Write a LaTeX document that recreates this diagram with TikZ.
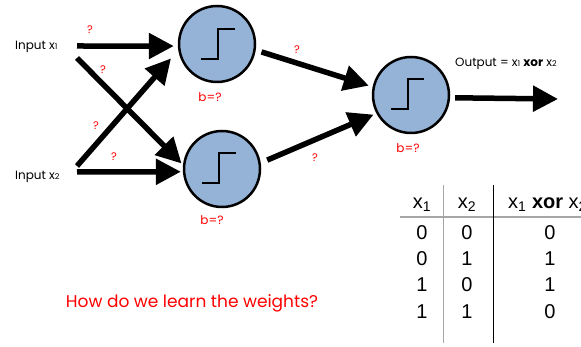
\documentclass[tikz,border=0pt]{standalone}
\usepackage{fontspec}
\setmainfont{Poppins}
\newfontfamily\arialfont{Liberation Sans}
\usetikzlibrary{arrows.meta}
\definecolor{nfill}{HTML}{95B3D7}
\definecolor{qred}{HTML}{FF0000}
\begin{document}
\begin{tikzpicture}[x=1pt,y=-1pt,
 neuron/.style={circle,draw=black,line width=2.5pt,fill=nfill,minimum size=76pt,inner sep=0pt},
 wire/.style={line width=5.5pt,-{Triangle[length=25pt,width=25pt]}},
 qlab/.style={text=qred,font=\fontsize{11}{12}\selectfont,inner sep=0pt},
 blab/.style={text=qred,font=\fontsize{12}{13}\selectfont,inner sep=0pt},
 inlab/.style={font=\fontsize{12}{14}\selectfont,inner sep=0pt,anchor=west},
 stepline/.style={line width=2pt},
 cell/.style={font=\arialfont\fontsize{20}{22}\selectfont,inner sep=0pt}
]
\useasboundingbox (0,0) rectangle (581,347);

% neurons
\node[neuron] (h1) at (217,44) {};
\node[neuron] (h2) at (222,169) {};
\node[neuron] (o) at (411,95) {};

% step functions
\draw[stepline] (h1) ++(-16,15) -- ++(17,0) -- ++(0,-30) -- ++(17,0);
\draw[stepline] (h2) ++(-20,14) -- ++(17,0) -- ++(0,-30) -- ++(17,0);
\draw[stepline] (o) ++(-20,14) -- ++(17,0) -- ++(0,-30) -- ++(16,0);

% input labels
\node[inlab] (in1) at (15,47) {Input x{\fontsize{8}{9}\selectfont 1}};
\node[inlab] (in2) at (15,177) {Input x{\fontsize{8}{9}\selectfont 2}};

\coordinate (s1a) at (77,46);
\coordinate (s1b) at (77,58);
\coordinate (s2a) at (77,166);
\coordinate (s2b) at (77,172);
\coordinate (oend) at (558,99);

% connectors
\draw[wire,shorten >=4pt] (s1a) -- (h1.183);
\draw[wire,shorten >=11pt] (s2a) -- (h1.189);
\draw[wire,shorten >=2pt] (s1b) -- (h2.174);
\draw[wire,shorten >=2pt] (s2b) -- (h2.184);
\draw[wire,shorten <=6pt,shorten >=4pt] (h1.-9) -- (o.168);
\draw[wire,shorten <=7pt,shorten >=3pt] (h2.9) -- (o.208);
\draw[wire,shorten <=5pt] (o.-4) -- (oend);

% weight labels
\node[qlab] (q1) at (90,30) {?};
\node[qlab] (q2) at (103,70) {?};
\node[qlab] (q3) at (96,126) {?};
\node[qlab] (q4) at (114,157) {?};
\node[qlab] (q5) at (297,50) {?};
\node[qlab] (q6) at (315,158) {?};

% bias labels
\node[blab] (b1) at (210,97) {b=?};
\node[blab] (b2) at (212,220) {b=?};
\node[blab] (b3) at (408,148) {b=?};

% output label
\node[inlab] (outl) at (455,64) {Output = x{\fontsize{8}{9}\selectfont 1} \textbf{xor} x{\fontsize{8}{9}\selectfont 2}};

% question
\node[text=qred,font=\fontsize{17}{19}\selectfont,inner sep=0pt] (qq) at (192,303) {How do we learn the weights?};

% table
\draw[gray!70,line width=1.5pt] (400,217) -- (581,217);
\draw[gray!70,line width=1pt] (443,185) -- (443,343);
\draw[black,line width=1pt] (493,185) -- (493,343);
\node[cell] (t11) at (422,205) {x\textsubscript{1}};
\node[cell] (t12) at (467,205) {x\textsubscript{2}};
\node[cell,anchor=west] (t13) at (508,205) {x\textsubscript{1} \textbf{xor} x\textsubscript{2}};
\node[cell] (r1a) at (422,233) {0};
\node[cell] (r1b) at (467,233) {0};
\node[cell] (r1c) at (550,233) {0};
\node[cell] (r2a) at (422,259) {0};
\node[cell] (r2b) at (467,259) {1};
\node[cell] (r2c) at (550,259) {1};
\node[cell] (r3a) at (422,285) {1};
\node[cell] (r3b) at (467,285) {0};
\node[cell] (r3c) at (550,285) {1};
\node[cell] (r4a) at (422,312) {1};
\node[cell] (r4b) at (467,312) {1};
\node[cell] (r4c) at (550,312) {0};
\end{tikzpicture}
\end{document}
